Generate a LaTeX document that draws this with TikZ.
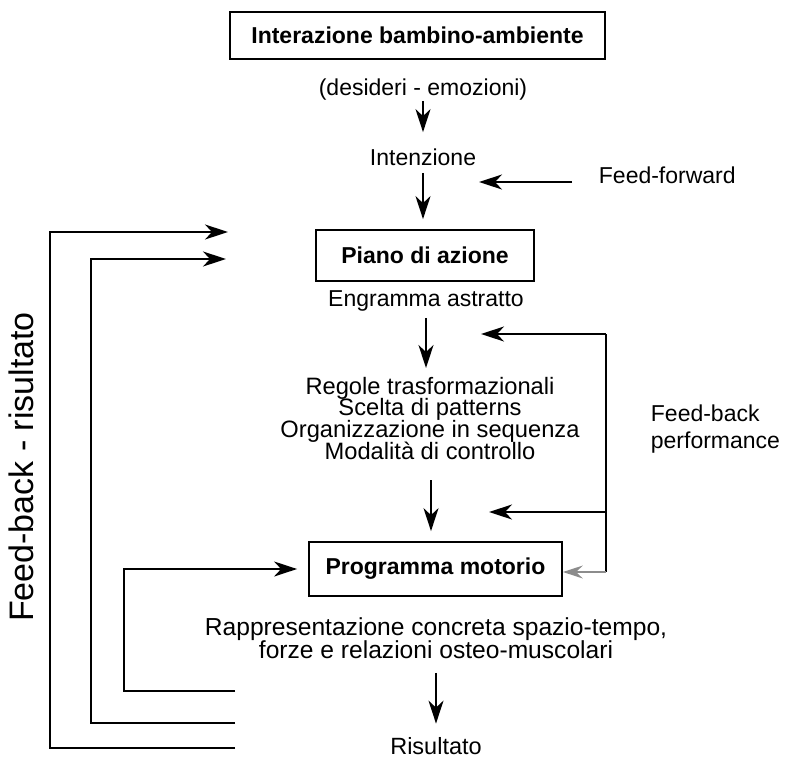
\documentclass[tikz,border=0pt]{standalone}
\usepackage{fontspec}
\setmainfont{Liberation Sans}
\usetikzlibrary{arrows.meta}
\newcommand\mytightls{\lineskiplimit-50pt\relax}
\begin{document}
\begin{tikzpicture}[x=1pt,y=-1pt,
  line width=1.8pt,
  arr/.style={-{Stealth[length=23pt,width=15pt,inset=7pt]}},
  garr/.style={-{Stealth[length=20pt,width=13pt,inset=7pt]},draw=black!45},
  lbl/.style={font=\fontsize{23}{22}\selectfont,inner sep=0pt,text height=17pt,text depth=5pt},
  multi/.style={font=\fontsize{23.7}{21.7}\selectfont\mytightls,inner sep=0pt,align=center},
  boxed/.style={draw,line width=1.8pt,font=\fontsize{23}{24}\selectfont\bfseries,inner sep=0pt}]
\useasboundingbox (0,0) rectangle (789,758);
% boxes
\node[boxed,minimum width=375pt,minimum height=47pt] (b1) at (417.5,35.5) {Interazione bambino-ambiente};
\node[boxed,minimum width=218pt,minimum height=51pt] (b2) at (425,255.5) {Piano di azione};
\node[boxed,minimum width=253pt,minimum height=54pt] (b3) at (435.5,569) {Programma motorio};
% texts
\node[lbl] (desid) at (423,89) {(desideri - emozioni)};
\node[lbl] (inten) at (423,159) {Intenzione};
\node[lbl] (engr) at (426,300) {Engramma astratto};
\node[multi,anchor=north] (rules) at (430,376) {Regole trasformazionali\\Scelta di patterns\\Organizzazione in sequenza\\Modalità di controllo};
\node[multi,anchor=north,font=\fontsize{24.6}{23}\selectfont\mytightls] (rappr) at (436,617) {Rappresentazione concreta spazio-tempo,\\forze e relazioni osteo-muscolari};
\node[lbl,text depth=0pt,font=\fontsize{23.5}{22}\selectfont] (ris) at (436,746) {Risultato};
\node[lbl,anchor=west] (ff) at (598,177) {Feed-forward};
\node[font=\fontsize{23}{27}\selectfont,inner sep=0pt,align=left,anchor=north west] (fbp) at (650,404) {Feed-back\\performance};
\node[font=\fontsize{34}{34}\selectfont,inner sep=0pt,rotate=90,anchor=base] (fbr) at (33,467) {Feed-back - risultato};
% main vertical arrows
\draw[arr,shorten >=15pt] (desid.south) -- (desid.south |- inten.north);
\draw[arr,shorten <=2pt,shorten >=10pt] (inten.south) -- (inten.south |- b2.north);
\draw[arr,shorten <=6pt,shorten >=8pt] (engr.south) -- (engr.south |- rules.north);
\draw[arr,shorten <=20pt,shorten >=10pt] ([xshift=1pt]rules.south) -- ([xshift=1pt]rules.south |- b3.north);
\draw[arr,shorten <=13pt,shorten >=13pt] (ris.north |- rappr.south) -- (ris.north);
% feed-forward
\coordinate (ffA) at (572,182);
\coordinate (ffT) at (479,182);
\draw[arr] (ffA) -- (ffT);
% feed-back performance loop
\coordinate (pT) at (606,334);
\coordinate (pM) at (606,512);
\coordinate (pB) at (606,572);
\coordinate (pTt) at (481,334);
\coordinate (pMt) at (489,512);
\draw (pT) -- (pB);
\draw[arr] (pT) -- (pTt);
\draw[arr] (pM) -- (pMt);
\draw[garr,line width=1.4pt] (pB) -- (b3.east |- pB);
% feed-back risultato loops
\coordinate (o1) at (235,748);
\coordinate (o1t) at (228,232);
\draw[arr] (o1) -- (50,748) -- (50,232) -- (o1t);
\coordinate (o2) at (235,723);
\coordinate (o2t) at (226,259);
\draw[arr] (o2) -- (91,723) -- (91,259) -- (o2t);
\coordinate (o3) at (235,691);
\draw[arr,shorten >=11pt] (o3) -- (124,691) -- (124,569) -- (b3.west);
\end{tikzpicture}
\end{document}
